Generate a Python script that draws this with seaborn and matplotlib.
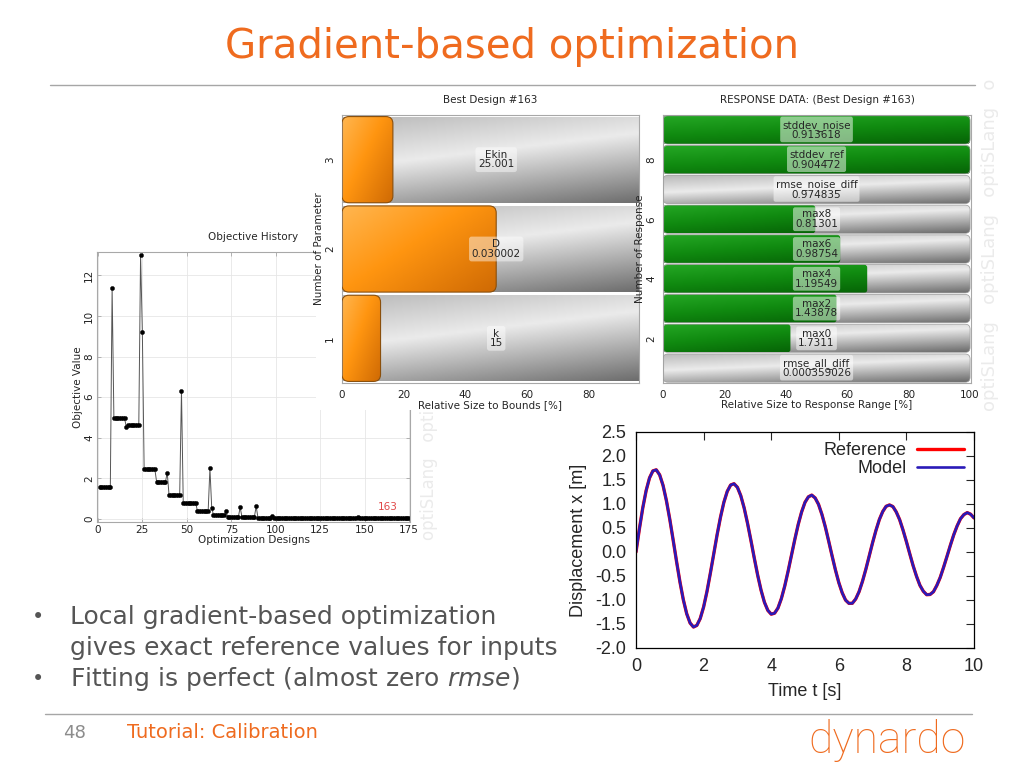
import numpy as np
import pandas as pd
import seaborn as sns
import matplotlib.pyplot as plt
from matplotlib.colors import LinearSegmentedColormap
from matplotlib.patches import FancyBboxPatch
from matplotlib.lines import Line2D
from matplotlib.ticker import FormatStrFormatter

# %% data
# objective value per design (design 1..175)
obj_values = [
    1.59, 1.59, 1.59, 1.59, 1.59, 1.59, 1.59, 11.4, 4.95, 4.95,
    4.95, 4.95, 4.95, 4.95, 4.95, 4.53, 4.61, 4.61, 4.61, 4.61,
    4.61, 4.61, 4.61, 13.0, 9.22, 2.47, 2.47, 2.47, 2.47, 2.47,
    2.47, 2.47, 1.84, 1.84, 1.84, 1.84, 1.84, 1.84, 2.27, 1.19,
    1.19, 1.19, 1.19, 1.19, 1.19, 1.19, 6.31, 0.79, 0.79, 0.79,
    0.79, 0.79, 0.79, 0.79, 0.79, 0.38, 0.38, 0.38, 0.38, 0.38,
    0.38, 0.38, 2.49, 0.56, 0.19, 0.19, 0.19, 0.19, 0.19, 0.19,
    0.19, 0.37, 0.11, 0.11, 0.11, 0.11, 0.11, 0.11, 0.11, 0.57,
    0.11, 0.11, 0.11, 0.11, 0.11, 0.11, 0.11, 0.11, 0.62, 0.07,
    0.07, 0.07, 0.07, 0.07, 0.07, 0.07, 0.07, 0.13, 0.05, 0.05,
    0.05, 0.05, 0.05, 0.05, 0.05, 0.05, 0.05, 0.05, 0.05, 0.05,
    0.05, 0.05, 0.05, 0.05, 0.05, 0.05, 0.05, 0.05, 0.05, 0.05,
    0.05, 0.05, 0.05, 0.05, 0.05, 0.05, 0.05, 0.05, 0.05, 0.05,
    0.05, 0.05, 0.05, 0.05, 0.05, 0.05, 0.05, 0.05, 0.05, 0.05,
    0.05, 0.05, 0.05, 0.05, 0.05, 0.09, 0.04, 0.04, 0.04, 0.04,
    0.04, 0.04, 0.04, 0.04, 0.04, 0.04, 0.04, 0.04, 0.04, 0.04,
    0.04, 0.04, 0.04, 0.04, 0.04, 0.04, 0.04, 0.04, 0.04, 0.04,
    0.04, 0.04, 0.04, 0.04, 0.04,
]
designs = list(range(1, len(obj_values) + 1))
best_design = 163

# best design parameters
param_ids = [1, 2, 3]
param_names = ['k', 'D', 'Ekin']
param_values = ['15', '0.030002', '25.001']
param_rel = [12.5, 50.0, 16.5]      # relative size to bounds [%]
param_full = [100, 100, 100]

# response data of best design
resp_ids = [1, 2, 3, 4, 5, 6, 7, 8, 9]
resp_names = ['rmse_all_diff', 'max0', 'max2', 'max4', 'max6', 'max8',
              'rmse_noise_diff', 'stddev_ref', 'stddev_noise']
resp_values = ['0.000359026', '1.7311', '1.43878', '1.19549', '0.98754',
               '0.81301', '0.974835', '0.904472', '0.913618']
resp_rel = [0, 41.5, 56.5, 66.5, 57.7, 49.6, 0, 100, 100]   # relative size to response range [%]
resp_full = [100, 100, 100, 100, 100, 100, 100, 100, 100]

# displacement over time (reference and fitted model coincide)
time_s = [0.0, 0.1, 0.2, 0.3, 0.4, 0.5, 0.6, 0.7, 0.8, 0.9,
          1.0, 1.1, 1.2, 1.3, 1.4, 1.5, 1.6, 1.7, 1.8, 1.9,
          2.0, 2.1, 2.2, 2.3, 2.4, 2.5, 2.6, 2.7, 2.8, 2.9,
          3.0, 3.1, 3.2, 3.3, 3.4, 3.5, 3.6, 3.7, 3.8, 3.9,
          4.0, 4.1, 4.2, 4.3, 4.4, 4.5, 4.6, 4.7, 4.8, 4.9,
          5.0, 5.1, 5.2, 5.3, 5.4, 5.5, 5.6, 5.7, 5.8, 5.9,
          6.0, 6.1, 6.2, 6.3, 6.4, 6.5, 6.6, 6.7, 6.8, 6.9,
          7.0, 7.1, 7.2, 7.3, 7.4, 7.5, 7.6, 7.7, 7.8, 7.9,
          8.0, 8.1, 8.2, 8.3, 8.4, 8.5, 8.6, 8.7, 8.8, 8.9,
          9.0, 9.1, 9.2, 9.3, 9.4, 9.5, 9.6, 9.7, 9.8, 9.9, 10.0]
disp_ref = [0.000, 0.480, 0.917, 1.280, 1.544, 1.690, 1.712, 1.607, 1.388, 1.069,
            0.679, 0.246, -0.199, -0.623, -0.994, -1.286, -1.479, -1.563, -1.529, -1.386,
            -1.146, -0.822, -0.441, -0.041, 0.361, 0.726, 1.036, 1.263, 1.396, 1.422,
            1.348, 1.173, 0.917, 0.597, 0.241, -0.129, -0.484, -0.796, -1.048, -1.216,
            -1.295, -1.275, -1.168, -0.972, -0.711, -0.400, -0.067, 0.266, 0.576, 0.835,
            1.035, 1.149, 1.185, 1.126, 0.993, 0.784, 0.526, 0.229, -0.077, -0.373,
            -0.637, -0.849, -1.002, -1.070, -1.068, -0.979, -0.826, -0.612, -0.360, -0.083,
            0.195, 0.452, 0.677, 0.843, 0.952, 0.980, 0.947, 0.834, 0.674, 0.457,
            0.216, -0.039, -0.288, -0.507, -0.694, -0.817, -0.890, -0.885, -0.828, -0.697,
            -0.531, -0.319, -0.093, 0.138, 0.357, 0.542, 0.692, 0.779, 0.820, 0.787, 0.710]
disp_model = list(disp_ref)

# %% style
sns.set_style('white')
plt.rcParams['font.family'] = ['DejaVu Sans']
plt.rcParams['axes.unicode_minus'] = False

ORANGE = '#EF6B1F'
W, H = 1024, 768

fig = plt.figure(figsize=(10.24, 7.68), dpi=100)
fig.patch.set_facecolor('white')


def fx(px):
    return px / W


def fy(py):
    return 1 - py / H


def box(l, t, r, b):
    return [l / W, 1 - b / H, (r - l) / W, (b - t) / H]


grey_cmap = LinearSegmentedColormap.from_list('metal', [(0, '#b9b9b9'), (0.42, '#ebebeb'), (1, '#6c6c6c')])
orange_cmap = LinearSegmentedColormap.from_list('orng', [(0, '#ffb650'), (0.45, '#ff9510'), (1, '#cf6a04')])
green_cmap = LinearSegmentedColormap.from_list('grn', [(0, '#25a825'), (0.5, '#108a10'), (1, '#066406')])

gx, gy = np.meshgrid(np.linspace(0, 1, 120), np.linspace(0, 1, 40))
grad_diag = 0.7 * (1 - gy) + 0.3 * gx
grad_horiz = 0.55 * gx + 0.45 * (1 - gy)


def restyle_bars(ax, patches, cmap, grad, edge, radius_px, w_px, h_px, lw=0.8):
    # swap seaborn's flat rectangles for shaded (optionally rounded) boxes
    xlim, ylim = ax.get_xlim(), ax.get_ylim()
    xu = (xlim[1] - xlim[0]) / w_px
    yu = abs(ylim[1] - ylim[0]) / h_px
    for p in patches:
        x0, y0, w, h = p.get_x(), p.get_y(), p.get_width(), p.get_height()
        p.set_visible(False)
        if w <= 0:
            continue
        if radius_px > 0:
            style = 'round,pad=0,rounding_size=%f' % (radius_px * xu)
        else:
            style = 'square,pad=0'
        fb = FancyBboxPatch((x0, y0), w, h, boxstyle=style, mutation_aspect=yu / xu,
                            fc='none', ec=edge, lw=lw, zorder=3)
        ax.add_patch(fb)
        im = ax.imshow(grad, cmap=cmap, vmin=0, vmax=1, extent=[x0, x0 + w, y0, y0 + h],
                       origin='lower', aspect='auto', interpolation='bilinear', zorder=2)
        im.set_clip_path(fb)
    ax.set_xlim(xlim)
    ax.set_ylim(ylim)


def optislang_axes(ax):
    for s in ax.spines.values():
        s.set_color('#a8a8a8')
        s.set_linewidth(0.8)
    ax.tick_params(labelsize=7.5, colors='#222222', length=3, width=0.6, pad=2)
    ax.tick_params(color='#a8a8a8')


# %% objective history
ax_obj = fig.add_axes(box(97, 252, 410, 522))
hist = pd.DataFrame({'design': designs, 'objective': obj_values})
sns.lineplot(data=hist, x='design', y='objective', color='#555555', linewidth=0.7,
             marker='o', markersize=3.0, markerfacecolor='black', markeredgecolor='black',
             markeredgewidth=0.3, ax=ax_obj)
ax_obj.text(best_design, 0.35, str(best_design), color='#e04848', fontsize=7.5, ha='center', va='bottom')
ax_obj.set_xlim(-0.5, 175.5)
ax_obj.set_ylim(-0.15, 13.15)
ax_obj.set_xticks(range(0, 176, 25))
ax_obj.set_yticks(range(0, 13, 2))
plt.setp(ax_obj.get_yticklabels(), rotation=90, va='center')
ax_obj.grid(True, color='#e6e6e6', linewidth=0.6)
optislang_axes(ax_obj)
ax_obj.tick_params(right=True, top=True, bottom=True, left=True, direction='in')
ax_obj.set_xlabel('Optimization Designs', fontsize=7.5, labelpad=0)
ax_obj.set_ylabel('Objective Value', fontsize=7.5, labelpad=1)
ax_obj.set_title('Objective History', fontsize=7.5, pad=9)

# white panel of the best-design picture lying on top of the history plot
ax_pan = fig.add_axes(box(316, 88, 652, 410))
ax_pan.set_facecolor('white')
ax_pan.set_xticks([])
ax_pan.set_yticks([])
for s in ax_pan.spines.values():
    s.set_visible(False)

# %% best design parameters
ax_bd = fig.add_axes(box(342, 115, 639, 383))
bd = pd.DataFrame({'param': param_ids, 'full': param_full, 'rel': param_rel})
sns.barplot(data=bd, x='full', y='param', orient='y', native_scale=True, width=0.965,
            color='#cccccc', saturation=1, ax=ax_bd)
n_grey = len(ax_bd.patches)
sns.barplot(data=bd, x='rel', y='param', orient='y', native_scale=True, width=0.965,
            color='#ff9a1a', saturation=1, ax=ax_bd)
ax_bd.set_xlim(0, 96.3)
ax_bd.set_ylim(0.5, 3.5)
bars = list(ax_bd.patches)
restyle_bars(ax_bd, bars[:n_grey], grey_cmap, grad_diag, 'none', 0, 297, 268)
restyle_bars(ax_bd, bars[n_grey:], orange_cmap, grad_horiz, '#8a4f0c', 7, 297, 268)
for pid, name, val in zip(param_ids, param_names, param_values):
    ax_bd.text(50, pid, f'{name}\n{val}', ha='center', va='center', fontsize=7.5,
               linespacing=0.95, zorder=6,
               bbox=dict(boxstyle='round,pad=0.25', fc='white', ec='none', alpha=0.45))
ax_bd.set_xticks([0, 20, 40, 60, 80])
ax_bd.set_yticks(param_ids)
plt.setp(ax_bd.get_yticklabels(), rotation=90, va='center')
ax_bd.grid(False)
optislang_axes(ax_bd)
ax_bd.set_xlabel('Relative Size to Bounds [%]', fontsize=7.5, labelpad=0)
ax_bd.set_ylabel('Number of Parameter', fontsize=7.5, labelpad=1)
ax_bd.set_title('Best Design #163', fontsize=7.5, pad=9)

# %% response data
ax_rd = fig.add_axes(box(663, 115, 971, 383))
rd = pd.DataFrame({'resp': resp_ids, 'full': resp_full, 'rel': resp_rel})
sns.barplot(data=rd, x='full', y='resp', orient='y', native_scale=True, width=0.95,
            color='#cccccc', saturation=1, ax=ax_rd)
n_grey = len(ax_rd.patches)
sns.barplot(data=rd, x='rel', y='resp', orient='y', native_scale=True, width=0.95,
            color='#108a10', saturation=1, ax=ax_rd)
ax_rd.set_xlim(0, 100.3)
ax_rd.set_ylim(0.5, 9.5)
bars = list(ax_rd.patches)
restyle_bars(ax_rd, bars[:n_grey], grey_cmap, grad_diag, '#9a9a9a', 5, 308, 268, lw=0.5)
restyle_bars(ax_rd, bars[n_grey:], green_cmap, grad_diag, 'none', 3, 308, 268)
for rid, name, val in zip(resp_ids, resp_names, resp_values):
    ax_rd.text(50, rid, f'{name}\n{val}', ha='center', va='center', fontsize=7.5,
               linespacing=0.95, zorder=6,
               bbox=dict(boxstyle='round,pad=0.2', fc='white', ec='none', alpha=0.5))
ax_rd.set_xticks([0, 20, 40, 60, 80, 100])
ax_rd.set_yticks([2, 4, 6, 8])
plt.setp(ax_rd.get_yticklabels(), rotation=90, va='center')
ax_rd.grid(False)
optislang_axes(ax_rd)
ax_rd.set_xlabel('Relative Size to Response Range [%]', fontsize=7.5, labelpad=0)
ax_rd.set_ylabel('Number of Response', fontsize=7.5, labelpad=1)
ax_rd.set_title('RESPONSE DATA: (Best Design #163)', fontsize=7.5, pad=9)

# %% displacement over time
ax_d = fig.add_axes(box(636, 432, 974, 648))
disp = pd.DataFrame({'t': time_s, 'ref': disp_ref, 'model': disp_model})
sns.lineplot(data=disp, x='t', y='ref', color='#ff0000', linewidth=2.4, label='Reference', ax=ax_d)
sns.lineplot(data=disp, x='t', y='model', color='#2a1ab8', linewidth=1.9, label='Model', ax=ax_d)
ax_d.set_xlim(0, 10)
ax_d.set_ylim(-2.0, 2.5)
ax_d.set_xticks(range(0, 11, 2))
ax_d.set_yticks(np.arange(-2.0, 2.51, 0.5))
ax_d.yaxis.set_major_formatter(FormatStrFormatter('%.1f'))
ax_d.tick_params(direction='in', top=True, right=True, length=6, width=0.8,
                 labelsize=13, labelfontfamily='Liberation Sans', pad=7)
for s in ax_d.spines.values():
    s.set_color('black')
    s.set_linewidth(0.9)
ax_d.set_xlabel('Time t [s]', fontsize=13, family='Liberation Sans', labelpad=6)
ax_d.set_ylabel('Displacement x [m]', fontsize=13, family='Liberation Sans', labelpad=6)
leg = ax_d.legend(loc='upper right', markerfirst=False, frameon=False, handlelength=2.6,
                  labelspacing=0.05, borderaxespad=0.15, handletextpad=0.6,
                  prop={'family': 'Liberation Sans', 'size': 13})

# %% slide decoration
fig.text(fx(512), fy(47), 'Gradient-based optimization', color=ORANGE, fontsize=29,
         ha='center', va='center')
fig.add_artist(Line2D([fx(50), fx(975)], [fy(85), fy(85)], color='#a6a6a6', linewidth=1.0))
fig.add_artist(Line2D([fx(45), fx(972)], [fy(714), fy(714)], color='#a6a6a6', linewidth=1.0))

txt = '#555555'
fig.text(fx(32), fy(617), '•', color=txt, fontsize=15, va='center')
fig.text(fx(70), fy(617), 'Local gradient-based optimization', color=txt, fontsize=18, va='center')
fig.text(fx(70), fy(648), 'gives exact reference values for inputs', color=txt, fontsize=18, va='center')
fig.text(fx(32), fy(679), '•', color=txt, fontsize=15, va='center')
fig.text(fx(70), fy(679), 'Fitting is perfect (almost zero $\\mathit{rmse}$)', color=txt, fontsize=18,
         va='center')

fig.text(fx(63), fy(733), '48', color='#8c8c8c', fontsize=13, va='center')
fig.text(fx(127), fy(733), 'Tutorial: Calibration', color=ORANGE, fontsize=14, va='center')
fig.text(fx(887), fy(740), 'dynardo', color=ORANGE, fontsize=32, ha='center', va='center',
         family=['Roboto', 'DejaVu Sans'], fontweight='light')

# faint optiSLang watermarks
fig.text(fx(990), fy(245), 'optiSLang   optiSLang   optiSLang   o', rotation=90, color='#ebebeb',
         fontsize=13, ha='center', va='center')
fig.text(fx(429), fy(540), 'optiSLang   opti', rotation=90, color='#ebebeb',
         fontsize=12, ha='center', va='bottom')

plt.savefig('out.png', dpi=100)
